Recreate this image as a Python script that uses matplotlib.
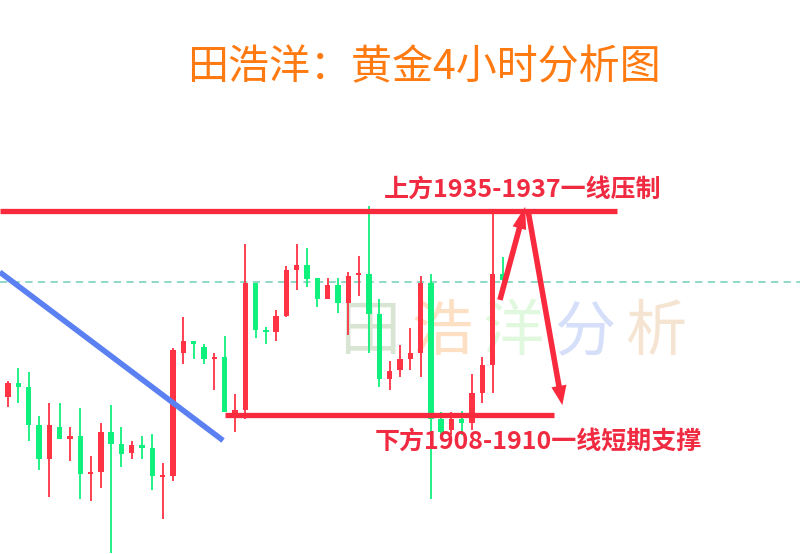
import numpy as np
import matplotlib
matplotlib.use('Agg')
from matplotlib import pyplot as plt

plt.rcParams['font.family'] = ['Noto Sans CJK SC', 'DejaVu Sans']

# 4h candles (price)
opens = [1911.3, 1913.1, 1912.6, 1907.5, 1903.0, 1907.3, 1905.7, 1906.1, 1901.0, 1901.3,
         1906.6, 1905.1, 1903.8, 1904.9, 1904.5, 1900.6, 1900.8, 1917.2, 1918.7, 1917.9,
         1916.3, 1916.6, 1908.6, 1909.5, 1926.4, 1920.2, 1919.9, 1922.0, 1928.2, 1928.8,
         1927.1, 1924.3, 1926.2, 1923.8, 1927.5, 1927.6, 1922.3, 1913.7, 1914.9, 1916.3,
         1917.2, 1926.4, 1908.3, 1906.9, 1908.3, 1907.8, 1911.8, 1915.5, 1927.6]
closes = [1913.1, 1912.6, 1907.5, 1903.0, 1907.5, 1905.7, 1906.1, 1901.0, 1901.3, 1906.6,
          1905.1, 1903.7, 1904.9, 1904.5, 1900.8, 1900.8, 1917.5, 1918.7, 1918.4, 1916.3,
          1916.6, 1909.3, 1909.5, 1926.4, 1920.2, 1919.9, 1922.0, 1928.2, 1928.8, 1927.0,
          1924.3, 1926.2, 1923.8, 1927.4, 1927.6, 1922.3, 1913.7, 1914.7, 1916.3, 1917.2,
          1926.4, 1908.3, 1906.6, 1908.3, 1907.8, 1911.8, 1915.5, 1927.6, 1926.8]
highs = [1913.4, 1915.1, 1914.6, 1908.7, 1910.5, 1910.5, 1907.3, 1909.8, 1903.4, 1907.8,
         1910.2, 1907.3, 1905.4, 1906.1, 1906.3, 1902.5, 1917.8, 1921.9, 1918.7, 1918.4,
         1917.2, 1919.4, 1911.7, 1931.7, 1926.4, 1920.6, 1922.8, 1928.7, 1931.6, 1931.1,
         1927.1, 1927.1, 1927.1, 1927.9, 1930.0, 1936.7, 1924.3, 1916.1, 1918.2, 1920.4,
         1927.4, 1927.6, 1909.3, 1909.3, 1909.4, 1914.3, 1916.6, 1936.3, 1929.9]
lows = [1909.9, 1910.5, 1905.4, 1901.6, 1898.0, 1905.7, 1902.8, 1897.7, 1897.4, 1899.2,
        1890.5, 1902.0, 1903.0, 1903.0, 1898.9, 1895.0, 1900.1, 1915.7, 1916.3, 1915.7,
        1912.2, 1909.3, 1906.6, 1908.3, 1919.2, 1918.4, 1918.7, 1921.9, 1925.5, 1925.9,
        1923.2, 1924.3, 1922.4, 1919.5, 1924.7, 1917.2, 1912.6, 1912.2, 1913.9, 1914.9,
        1913.9, 1897.7, 1905.9, 1906.2, 1906.2, 1906.9, 1910.5, 1911.8, 1926.4]

resistance = 1936.0
support = 1908.9
last_price = 1926.6
trend_x = [-0.8, 20.85]
trend_y = [1927.9, 1905.5]

title = '田浩洋：黄金4小时分析图'
upper_label = '上方1935-1937一线压制'
lower_label = '下方1908-1910一线短期支撑'
watermark = ['田', '浩', '洋', '分', '析']
watermark_colors = ['#d8e5d2', '#fddfc4', '#e0f8de', '#d6dffa', '#f5e4d2']

RED = '#ff3344'
GREEN = '#10f07c'
LINE_RED = '#fa2a3e'

fig = plt.figure(figsize=(8, 5.54), dpi=100)
ax = fig.add_axes([0, 0, 1, 1])
ax.set_xlim(-0.78, 76.8)
ax.set_ylim(1890.4, 1964.1)
ax.axis('off')

# watermark, kept under the candles
for k, (ch, col) in enumerate(zip(watermark, watermark_colors)):
    ax.text((370 + k * 71.5) / 800, 1 - 333 / 554, ch, transform=ax.transAxes,
            fontsize=44, color=col, ha='center', va='center', fontweight='light', zorder=0)

ax.axhline(last_price, color='#86d6c4', lw=1.3, ls=(0, (4, 3)), zorder=1)

# candles
x = np.arange(len(opens))
for i in x:
    o, c = opens[i], closes[i]
    col = RED if c >= o else GREEN
    ax.vlines(i, lows[i], highs[i], color=col, lw=1.3, zorder=2)
    lo, hi = min(o, c), max(o, c)
    if hi - lo < 0.25:
        hi = lo + 0.25
    ax.bar(i, hi - lo, bottom=lo, width=0.52, color=col, zorder=3, linewidth=0)

# trend / levels
ax.plot(trend_x, trend_y, color='#5a80f2', lw=4, solid_capstyle='butt', zorder=4)
ax.hlines(resistance, -0.8, 59.1, color=LINE_RED, lw=3.8, zorder=4)
ax.hlines(support, 21.05, 52.95, color=LINE_RED, lw=3.8, zorder=4)

# arrows
ax.annotate('', xy=(50.15, 1936.6), xytext=(47.7, 1924.2),
            arrowprops=dict(arrowstyle='simple,head_length=1.6,head_width=1.0,tail_width=0.4',
                            color=LINE_RED, lw=0, shrinkA=0, shrinkB=0), zorder=5)
ax.annotate('', xy=(53.75, 1910.2), xytext=(50.45, 1935.9),
            arrowprops=dict(arrowstyle='simple,head_length=1.4,head_width=1.1,tail_width=0.4',
                            color=LINE_RED, lw=0, shrinkA=0, shrinkB=0), zorder=5)

ax.text(36.4, 1938.9, upper_label, fontsize=18, fontweight='bold', color='#f02a40',
        ha='left', va='center', zorder=6)
ax.text(35.6, 1905.4, lower_label, fontsize=18, fontweight='bold', color='#f02a40',
        ha='left', va='center', zorder=6)

fig.text(424 / 800, 1 - 68 / 554, title, fontsize=29.5, color='#ff7a10',
         ha='center', va='center', fontweight='medium')

fig.savefig('out.png', dpi=100)
